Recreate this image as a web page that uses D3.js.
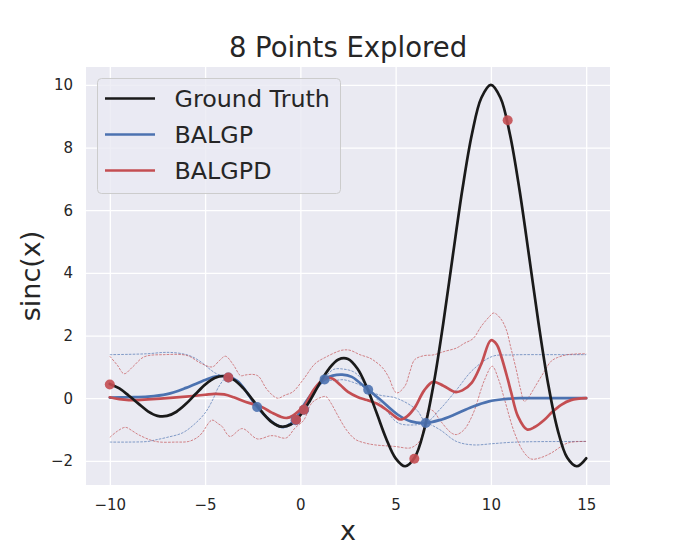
<!DOCTYPE html>
<html><head><meta charset="utf-8">
<script src="https://cdn.jsdelivr.net/npm/d3@7"></script>
<style>body{margin:0;background:#fff}svg{display:block;font-family:"DejaVu Sans",sans-serif}</style>
</head><body>
<svg id="c" width="679" height="546"></svg>
<script>
// ---------------- data ----------------
const title = "8 Points Explored";
const xLabel = "x";
const yLabel = "sinc(x)";
const xTicks = [-10, -5, 0, 5, 10, 15];
const yTicks = [-2, 0, 2, 4, 6, 8, 10];
const seriesNames = ["Ground Truth", "BALGP", "BALGPD"];

const gtX = [-10,-9.5,-9,-8.5,-8,-7.5,-7,-6.5,-6,-5.5,-5,-4.5,-4,-3.5,-3,-2.5,-2,-1.5,-1,-0.5,0,0.5,1,1.5,2,2.5,3,3.5,4,4.5,5,5.5,6,6.5,7,7.5,8,8.5,9,9.5,10,10.5,11,11.5,12,12.5,13,13.5,14,14.5,15];
const gtY = [0.456,0.311,0.079,-0.173,-0.417,-0.562,-0.566,-0.432,-0.180,0.133,0.434,0.645,0.708,0.595,0.323,-0.053,-0.447,-0.761,-0.909,-0.838,-0.544,-0.079,0.458,0.939,1.237,1.251,0.939,0.331,-0.466,-1.283,-1.918,-2.172,-1.892,-1.002,0.470,2.394,4.546,6.650,8.415,9.589,10,9.589,8.415,6.650,4.546,2.394,0.470,-1.002,-1.892,-2.172,-1.918];

const balgpX = [-10,-9,-8,-7,-6,-5,-4.4,-3.8,-3.3,-2.8,-2.27,-1.7,-1.2,-0.9,-0.5,-0.2,0.07,0.4,0.77,1.29,1.7,2.2,2.7,3.1,3.56,4.2,5.1,5.8,6.58,7.3,8.1,9,9.9,10.7,11.5,13,15];
const balgpY = [0.02,0.03,0.05,0.13,0.33,0.58,0.70,0.68,0.55,0.18,-0.28,-0.65,-0.87,-0.92,-0.82,-0.62,-0.33,-0.02,0.27,0.61,0.72,0.75,0.68,0.5,0.27,-0.05,-0.52,-0.74,-0.79,-0.70,-0.52,-0.28,-0.10,-0.03,0.0,0.0,0.0];

const balgpUpX = [-10,-9,-8,-7.2,-6.8,-6.2,-5.7,-5.2,-4.8,-4.4,-4.0,-3.8,-3.3,-2.27,-1.2,-0.9,-0.2,0.4,0.77,1.29,1.75,2.25,2.8,3.2,3.56,4.1,5.05,6.1,6.6,7.3,8.2,9.06,10.1,11,11.7,13,15];
const balgpUpY = [1.39,1.40,1.42,1.46,1.46,1.42,1.33,1.15,0.95,0.78,0.71,0.69,0.57,-0.26,-0.85,-0.90,-0.60,0.0,0.29,0.66,0.92,0.93,0.84,0.62,0.28,0.11,0.0,-0.37,-0.76,-0.37,0.27,0.91,1.34,1.38,1.39,1.39,1.39];

const balgpLoX = [-10,-9,-8,-7.6,-7,-6.2,-5.6,-5.0,-4.6,-4.3,-4.0,-3.8,-3.3,-2.27,-1.2,-0.9,-0.2,0.4,0.77,1.29,1.75,2.25,2.8,3.2,3.56,4.35,5.13,6.09,6.6,7.31,8.19,9.06,10.1,11,12,15];
const balgpLoY = [-1.40,-1.40,-1.38,-1.33,-1.25,-1.11,-0.85,-0.47,-0.05,0.35,0.60,0.67,0.53,-0.30,-0.89,-0.94,-0.64,-0.04,0.25,0.57,0.56,0.59,0.50,0.40,0.26,-0.26,-0.79,-0.85,-0.80,-1.0,-1.38,-1.49,-1.45,-1.41,-1.39,-1.38];

const balgpdX = [-10,-9.5,-9,-8.5,-8,-7,-6,-5,-4.5,-4,-3.5,-3,-2.5,-2,-1.5,-1,-0.7,-0.4,-0.1,0.25,0.7,1.1,1.4,1.7,2.1,2.5,3,3.5,4,4.5,5,5.25,5.6,6,6.5,6.96,7.5,8.1,8.5,9,9.5,10,10.3,10.54,10.89,11.07,11.42,11.9,12.3,12.81,13.2,13.69,14.2,15];
const balgpdY = [0.03,-0.03,-0.06,-0.06,-0.04,0.0,0.05,0.11,0.14,0.12,0.03,-0.09,-0.19,-0.29,-0.46,-0.6,-0.63,-0.56,-0.42,-0.2,0.27,0.55,0.65,0.62,0.42,0.2,0.04,-0.06,-0.17,-0.36,-0.6,-0.68,-0.58,-0.3,0.25,0.52,0.4,0.2,0.25,0.5,1.1,1.85,1.72,1.34,0.59,0.17,-0.58,-1.0,-0.92,-0.69,-0.45,-0.21,-0.06,0.0];

const balgpdUpX = [-10,-9.6,-9.25,-8.8,-8.2,-7.15,-5.93,-5.24,-4.62,-4.25,-3.93,-3.5,-3.14,-2.9,-2.5,-2.2,-1.74,-1.2,-0.8,-0.4,0.18,0.77,1.3,2.17,2.6,3.12,3.65,3.91,4.3,4.61,5.05,5.48,5.75,6.0,6.5,6.96,7.6,8.19,8.6,9.06,9.5,9.93,10.15,10.5,10.8,11.05,11.33,11.55,11.76,12.0,12.3,12.8,13.16,13.5,14.03,15];
const balgpdUpY = [1.34,1.05,0.78,1.0,1.32,1.39,1.36,1.12,1.0,1.2,1.34,1.05,0.72,0.74,0.76,0.70,0.27,0.0,0.10,0.20,0.62,1.10,1.30,1.53,1.53,1.39,1.28,1.18,0.98,0.70,0.17,0.38,0.85,1.23,1.36,1.38,1.50,1.60,1.75,1.90,2.30,2.61,2.72,2.55,2.20,1.60,0.91,0.30,-0.10,0.05,0.35,0.85,1.18,1.30,1.39,1.42];

const balgpdLoX = [-10,-9.6,-9.18,-8.8,-8.48,-7.6,-6.5,-5.86,-5.4,-5.16,-4.64,-4.3,-4.11,-3.7,-3.05,-2.25,-1.6,-1.35,-0.75,-0.28,0.18,0.6,1.1,1.35,1.6,1.99,2.44,2.9,3.4,3.91,4.96,5.74,6.05,6.3,6.55,6.75,7.0,7.31,7.93,8.2,8.6,9.06,9.67,10.07,10.4,10.72,11.24,11.7,12.11,12.6,13.16,14.03,15];
const balgpdLoY = [-1.25,-1.05,-0.93,-1.05,-1.17,-1.38,-1.40,-1.38,-1.25,-1.11,-0.70,-0.82,-0.90,-1.22,-0.97,-1.30,-1.20,-1.20,-1.27,-0.95,-0.70,-0.15,0.03,0.05,-0.15,-0.58,-1.03,-1.32,-1.43,-1.49,-1.54,-1.59,-1.50,-1.33,-0.75,-0.37,-0.42,-0.69,-1.11,-1.16,-1.00,-0.50,0.59,1.02,0.60,-0.05,-1.11,-1.70,-1.94,-1.90,-1.75,-1.43,-1.38];

const bluePtsX = [-3.78,-2.27,-0.25,0.2,1.27,3.56,6.58];
const bluePtsY = [0.66,-0.28,-0.70,-0.37,0.60,0.27,-0.79];
const redPtsX = [-10,-3.78,-0.22,0.18,5.98,10.88];
const redPtsY = [0.44,0.66,-0.69,-0.37,-1.93,8.87];

// ---------------- layout ----------------
const C = {bg:"#eaeaf2", grid:"#ffffff", text:"#262626", gt:"#1a1a1a", blue:"#4c72b0", red:"#c44e52"};
const L = 86, R = 610, T = 67, B = 485;
const svg = d3.select("#c");
const x = d3.scaleLinear().domain([-11.25, 16.25]).range([L, R]);
const y = d3.scaleLinear().domain([-2.77, 10.57]).range([B, T]);

svg.append("rect").attr("x", L).attr("y", T).attr("width", R - L).attr("height", B - T).attr("fill", C.bg);

// grid + axes (no spines, no tick marks)
const fmt = d => d < 0 ? "\u2212" + Math.abs(d) : String(d);
const xAxis = svg.append("g").attr("transform", `translate(0,${B})`)
  .call(d3.axisBottom(x).tickValues(xTicks).tickSize(-(B - T)).tickPadding(14).tickFormat(fmt));
const yAxis = svg.append("g").attr("transform", `translate(${L},0)`)
  .call(d3.axisLeft(y).tickValues(yTicks).tickSize(-(R - L)).tickPadding(13).tickFormat(fmt));
[xAxis, yAxis].forEach(a => {
  a.select(".domain").remove();
  a.selectAll(".tick line").attr("stroke", C.grid).attr("stroke-width", 1.3);
  a.selectAll(".tick text").attr("fill", C.text).style("font-size", "15px").style("font-family", "DejaVu Sans");
});

svg.append("clipPath").attr("id", "pc").append("rect")
  .attr("x", L).attr("y", T).attr("width", R - L).attr("height", B - T);
const plot = svg.append("g").attr("clip-path", "url(#pc)");

const lineOf = (xs, ys) => d3.line().curve(d3.curveCatmullRom.alpha(0.5))
  .x((d, i) => x(xs[i])).y((d, i) => y(ys[i]))(xs);

function dashed(xs, ys, col) {
  plot.append("path").attr("d", lineOf(xs, ys)).attr("fill", "none")
    .attr("stroke", col).attr("stroke-width", 0.75).attr("stroke-dasharray", "2.6,1.2").attr("opacity", 0.9);
}
dashed(balgpUpX, balgpUpY, C.blue);
dashed(balgpLoX, balgpLoY, C.blue);
dashed(balgpdUpX, balgpdUpY, C.red);
dashed(balgpdLoX, balgpdLoY, C.red);

function solid(xs, ys, col) {
  plot.append("path").attr("d", lineOf(xs, ys)).attr("fill", "none")
    .attr("stroke", col).attr("stroke-width", 2.7).attr("stroke-linejoin", "round").attr("stroke-linecap", "round");
}
solid(balgpX, balgpY, C.blue);
solid(balgpdX, balgpdY, C.red);
solid(gtX, gtY, C.gt);

plot.selectAll("circle.b").data(bluePtsX).join("circle").attr("class", "b")
  .attr("cx", d => x(d)).attr("cy", (d, i) => y(bluePtsY[i])).attr("r", 5).attr("fill", C.blue).attr("opacity", 0.9);
plot.selectAll("circle.r").data(redPtsX).join("circle").attr("class", "r")
  .attr("cx", d => x(d)).attr("cy", (d, i) => y(redPtsY[i])).attr("r", 5).attr("fill", C.red).attr("opacity", 0.9);

// title & labels
svg.append("text").attr("x", (L + R) / 2).attr("y", 57).attr("text-anchor", "middle")
  .attr("fill", C.text).style("font-size", "27.5px").text(title);
svg.append("text").attr("x", (L + R) / 2).attr("y", 540).attr("text-anchor", "middle")
  .attr("fill", C.text).style("font-size", "27px").text(xLabel);
svg.append("text").attr("transform", `translate(40,${(T + B) / 2}) rotate(-90)`).attr("text-anchor", "middle")
  .attr("fill", C.text).style("font-size", "27px").text(yLabel);

// legend
const lg = svg.append("g");
lg.append("rect").attr("x", 97.5).attr("y", 78.5).attr("width", 243).attr("height", 115).attr("rx", 4)
  .attr("fill", C.bg).attr("fill-opacity", 0.8).attr("stroke", "#cccccc").attr("stroke-width", 1);
const lcols = [C.gt, C.blue, C.red];
seriesNames.forEach((n, i) => {
  const yy = 98.5 + i * 36;
  lg.append("line").attr("x1", 105).attr("x2", 155).attr("y1", yy).attr("y2", yy)
    .attr("stroke", lcols[i]).attr("stroke-width", 2.7);
  lg.append("text").attr("x", 174.5).attr("y", yy + 8.5).attr("fill", C.text)
    .style("font-size", "23.8px").text(n);
});
</script>
</body></html>
